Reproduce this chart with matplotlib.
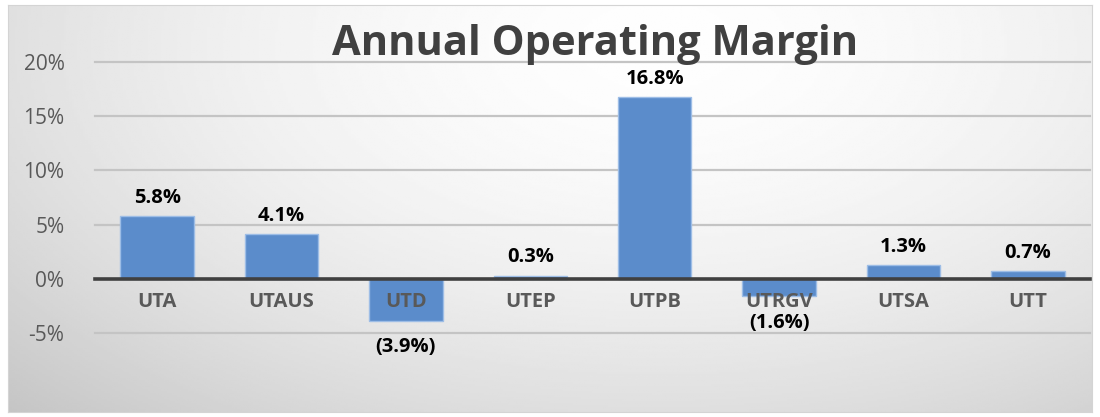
import numpy as np
import matplotlib.pyplot as plt

plt.rcParams['font.family'] = ['Open Sans', 'DejaVu Sans']

campus = ['UTA', 'UTAUS', 'UTD', 'UTEP', 'UTPB', 'UTRGV', 'UTSA', 'UTT']
marge = [0.058, 0.041, -0.039, 0.003, 0.168, -0.016, 0.013, 0.007]
graduations = [-0.05, 0.0, 0.05, 0.10, 0.15, 0.20]
etiquettes_y = ['-5%', '0%', '5%', '10%', '15%', '20%']

fig = plt.figure(figsize=(11, 4.17), dpi=100)
fig.patch.set_facecolor('white')

# fond dégradé façon Excel
fond = fig.add_axes([8/1100, 5/417, 1084/1100, 407/417], zorder=0)
yy, xx = np.mgrid[0:1:200j, 0:1:400j]
r = np.sqrt(((xx - 0.6) / 0.85) ** 2 + ((yy - 0.1) / 1.25) ** 2)
grad = np.clip(0.995 - 0.22 * r ** 1.8, 0, 1)
fond.imshow(grad, cmap='gray', vmin=0, vmax=1, aspect='auto', extent=(0, 1, 1, 0))
fond.set_xticks([])
fond.set_yticks([])
for s in fond.spines.values():
    s.set_color('#D4D4D4')

ax = fig.add_axes([95/1100, 1 - 333/417, 995/1100, 271/417], zorder=1)
ax.patch.set_alpha(0)

x = np.arange(len(campus))
ax.bar(x, marge, width=0.59, color='#5B8CCB', edgecolor='#9DBDE6', linewidth=1.0, zorder=3)

for g in graduations:
    if g != 0:
        ax.axhline(g, color='#C4C4C4', lw=1.6, zorder=1, clip_on=False)
ax.axhline(0, color='#404040', lw=2.6, zorder=4, clip_on=False)

for i, v in enumerate(marge):
    if v >= 0:
        txt = f'{v*100:.1f}%'
        ax.annotate(txt, (i, v), xytext=(0, 13), textcoords='offset points',
                    ha='center', va='center', fontsize=14.5, fontweight='bold', color='black')
    else:
        txt = f'({-v*100:.1f}%)'
        ax.annotate(txt, (i, v), xytext=(0, -19), textcoords='offset points',
                    ha='center', va='center', fontsize=14.5, fontweight='bold', color='black')
    ax.annotate(campus[i], (i, 0), xytext=(0, -17), textcoords='offset points',
                ha='center', va='center', fontsize=14.5, fontweight='bold', color='#595959', zorder=5)

ax.set_xlim(-0.5, len(campus) - 0.5)
ax.set_ylim(-0.05, 0.20)
ax.set_xticks([])
ax.set_yticks(graduations)
ax.set_yticklabels(etiquettes_y, fontsize=15, color='#595959')
ax.tick_params(axis='y', length=0, pad=22)
for s in ax.spines.values():
    s.set_visible(False)

fig.text(595/1100, 1 - 55/417, 'Annual Operating Margin', ha='center', va='baseline',
         fontsize=30, fontweight='bold', color='#404040', zorder=5)

fig.savefig('out.png', dpi=100)
